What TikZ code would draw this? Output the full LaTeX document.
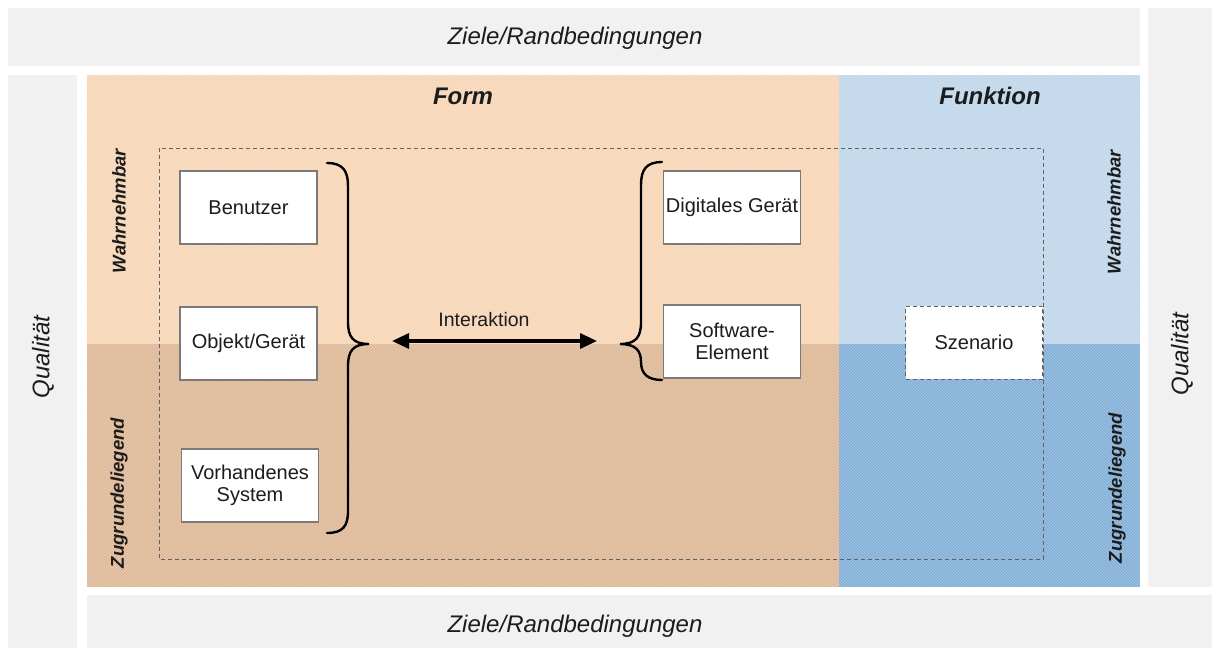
\documentclass[tikz,border=0pt]{standalone}
\usepackage{fontspec}
\setmainfont{Liberation Sans}
\usetikzlibrary{patterns,arrows.meta}

\definecolor{bandgray}{HTML}{F1F1F1}
\definecolor{formtop}{HTML}{F7D7B7}
\definecolor{formbot}{HTML}{DFB997}
\definecolor{funktop}{HTML}{C0D7EB}
\definecolor{funkbot}{HTML}{83B0D9}
\definecolor{inkdark}{HTML}{1C1C1C}
\definecolor{edgegray}{HTML}{7A7A7A}

\tikzset{
  band/.style={fill=bandgray, draw=none},
  hatch/.style={pattern=#1, pattern color=white, opacity=0.3},
  itembox/.style={draw=edgegray, line width=1.2pt, fill=white, minimum width=137pt,
    minimum height=73pt, inner sep=0pt, align=center, text=inkdark,
    font=\fontsize{20}{22}\selectfont},
  dashbox/.style={draw=edgegray!80!black, line width=1pt, dash pattern=on 4pt off 3pt},
  bandtext/.style={text=inkdark, font=\fontsize{24}{28}\selectfont\itshape},
  headtext/.style={text=inkdark, font=\fontsize{24}{28}\selectfont\bfseries\itshape},
  sidetext/.style={text=inkdark, font=\fontsize{18.5}{22}\selectfont\bfseries\itshape, rotate=90},
  bracestroke/.style={draw=black, line width=2.4pt, line cap=round},
}

\begin{document}
\begin{tikzpicture}[x=1pt,y=-1pt]
\useasboundingbox[fill=white] (0,0) rectangle (1212,648);

% outer grey bands
\fill[band] (8,8) rectangle (1140,66);
\fill[band] (1148,8) rectangle (1212,587);
\fill[band] (8,75) rectangle (77,648);
\fill[band] (87,595) rectangle (1212,648);

% four coloured quadrants with fine hatching
\fill[formtop] (87,75) rectangle (839,344);
\fill[hatch=north west lines] (87,75) rectangle (839,344);
\fill[formbot] (87,344) rectangle (839,587);
\fill[hatch=north east lines] (87,344) rectangle (839,587);
\fill[funktop] (839,75) rectangle (1140,344);
\fill[hatch=north east lines] (839,75) rectangle (1140,344);
\fill[funkbot] (839,344) rectangle (1140,587);
\fill[hatch=north west lines] (839,344) rectangle (1140,587);

% dashed system boundary
\draw[dashbox] (159,148) rectangle (1043,559);

% band labels
\node[bandtext] (zieletop) at (575,38) {Ziele/Randbedingungen};
\node[bandtext] (zielebot) at (575,626) {Ziele/Randbedingungen};
\node[bandtext, rotate=90] (quall) at (43,357) {Qualität};
\node[bandtext, rotate=90] (qualr) at (1182,354) {Qualität};

% headings
\node[headtext] (form) at (463,96) {Form};
\node[headtext] (funktion) at (990,96) {Funktion};
\node[sidetext] (wahrl) at (119,211) {Wahrnehmbar};
\node[sidetext] (zugrl) at (119,493) {Zugrundeliegend};
\node[sidetext] (wahrr) at (1114,212) {Wahrnehmbar};
\node[sidetext] (zugrr) at (1117,488) {Zugrundeliegend};

% element boxes
\node[itembox] (benutzer) at (248.5,207.5) {Benutzer};
\node[itembox] (objekt) at (248.5,343.5) {Objekt/Gerät};
\node[itembox] (system) at (250,485.5) {Vorhandenes\\System};
\node[itembox] (digital) at (732,207.5) {Digitales Gerät};
\node[itembox] (software) at (732,341.5) {Software-\\Element};
\node[itembox, dashbox, fill=white] (szenario) at (974,342.5) {Szenario};

% braces grouping the two sides
\coordinate (lbtip) at (369,344);
\coordinate (rbtip) at (620,344);
\draw[bracestroke] (327,163) .. controls (343,163) and (348,171) .. (348,186)
  -- (348,322) .. controls (348,337) and (353,344) .. (lbtip)
  .. controls (353,344) and (348,351) .. (348,366)
  -- (348,511) .. controls (348,526) and (343,533) .. (327,533);
\draw[bracestroke] (662,162) .. controls (646,162) and (641,170) .. (641,185)
  -- (641,322) .. controls (641,337) and (636,344) .. (rbtip)
  .. controls (636,344) and (641,351) .. (641,362)
  .. controls (641,374) and (648,380) .. (662,380);

% interaction arrow
\coordinate (arrl) at (392,341);
\coordinate (arrr) at (597,341);
\draw[line width=3.2pt, {Triangle[length=17pt,width=15pt]}-{Triangle[length=17pt,width=15pt]}] (arrl) -- (arrr);
\node[text=inkdark, font=\fontsize{19.5}{22}\selectfont] (interaktion) at (484,320) {Interaktion};
\end{tikzpicture}
\end{document}
